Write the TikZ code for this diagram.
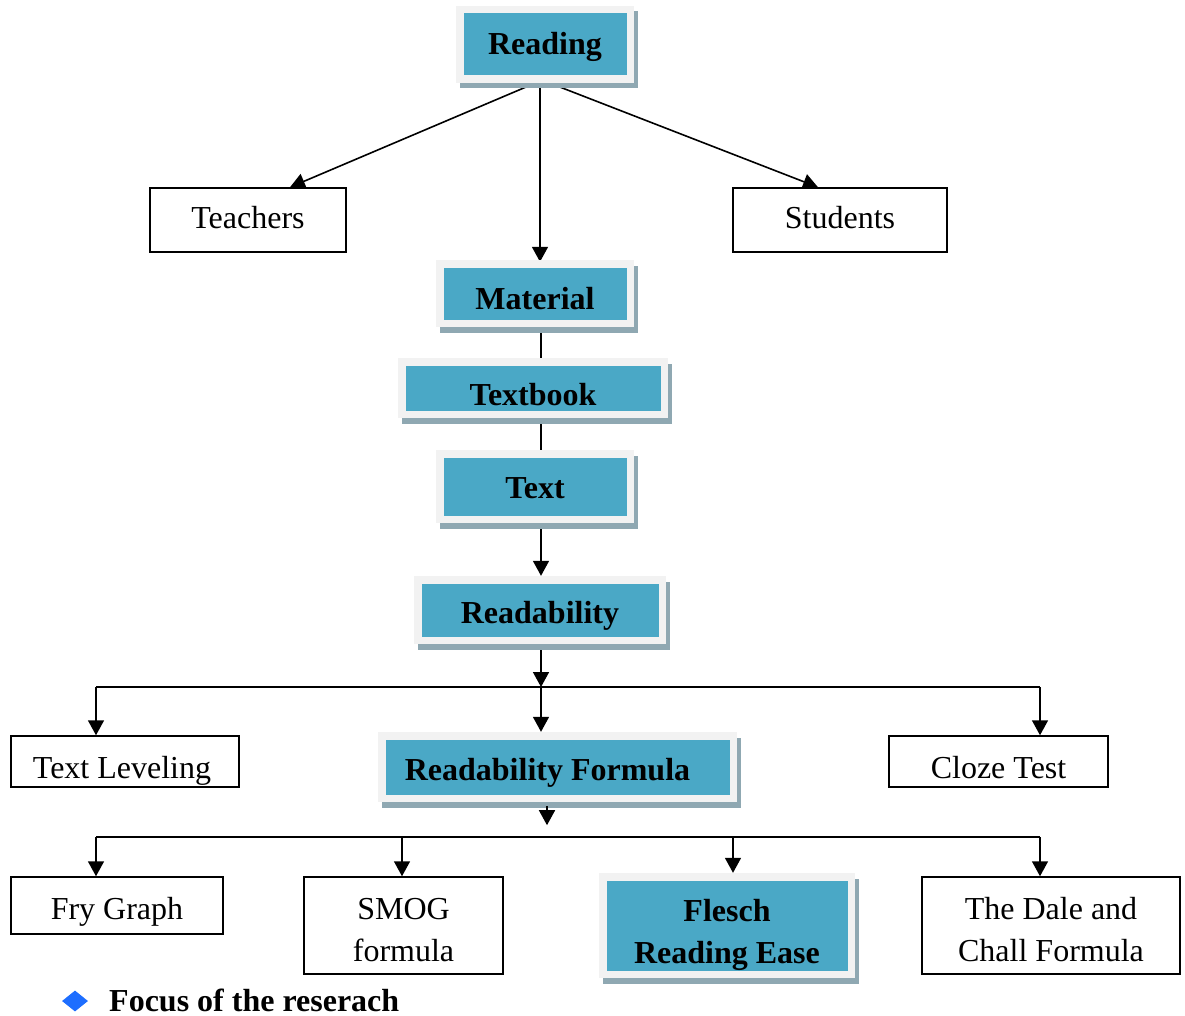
\documentclass[tikz,border=0pt]{standalone}
\usepackage{fontspec}
\setmainfont{Liberation Serif}
\usetikzlibrary{arrows.meta,shadows,shapes.geometric}
\definecolor{bblue}{HTML}{4AA8C6}
\definecolor{framec}{HTML}{F2F2F2}
\definecolor{shadowc}{HTML}{8FA8B2}
\definecolor{diamondc}{HTML}{1E6EFF}
\pgfdeclarelayer{bg}
\pgfsetlayers{bg,main}
\newcommand\lowone[2]{\raisebox{-#1}[\height][\depth]{#2}}
\newcommand\lowtwo[2]{\raisebox{-#1}[\height][\depth]{\begin{tabular}{@{}c@{}}#2\end{tabular}}}
\tikzset{
  bluebox/.style={fill=framec, draw=none, inner sep=0pt, align=center,
    font=\fontsize{32}{42}\selectfont\bfseries,
    drop shadow={shadow xshift=3.5pt, shadow yshift=-5.5pt, fill=shadowc, opacity=1},
    path picture={\fill[bblue] ([shift={(7.5pt,-7.5pt)}]path picture bounding box.north west) rectangle ([shift={(-7.5pt,7.5pt)}]path picture bounding box.south east);}},
  plainbox/.style={draw=black, line width=1.5pt, fill=white, inner sep=0pt, align=center,
    font=\fontsize{32}{42}\selectfont},
  conn/.style={line width=1.6pt, draw=black},
  arr/.style={conn, -{Triangle[width=16pt,length=15pt]}},
}
\begin{document}
\begin{tikzpicture}[x=1pt,y=-1pt]
\useasboundingbox (0,0) rectangle (1185,1016);
% blue boxes
\node[bluebox, minimum width=178pt, minimum height=77pt] (reading) at (545,44.5) {\lowone{2pt}{Reading}};
\node[bluebox, minimum width=198pt, minimum height=67pt] (material) at (535,293.5) {\lowone{5pt}{Material}};
\node[bluebox, minimum width=270pt, minimum height=60pt] (textbook) at (533,388) {\lowone{7pt}{Textbook}};
\node[bluebox, minimum width=198pt, minimum height=73pt] (textn) at (535,486.5) {\lowone{2pt}{Text}};
\node[bluebox, minimum width=252pt, minimum height=68pt] (readability) at (540,610) {\lowone{6pt}{Readability}};
\node[bluebox, minimum width=359pt, minimum height=70pt] (formula) at (557.5,767) {\lowone{6pt}{Readability Formula}\hspace*{20pt}};
\node[bluebox, minimum width=256pt, minimum height=105pt] (flesch) at (727,925.5) {\lowtwo{9pt}{Flesch\\Reading Ease}};
% plain boxes
\node[plainbox, minimum width=196pt, minimum height=64pt] (teachers) at (248,220) {\lowone{-2pt}{Teachers}};
\node[plainbox, minimum width=214pt, minimum height=64pt] (students) at (840,220) {\lowone{-2pt}{Students}};
\node[plainbox, minimum width=228pt, minimum height=51pt] (leveling) at (125,761.5) {\lowone{9pt}{Text Leveling}\hspace*{6pt}};
\node[plainbox, minimum width=219pt, minimum height=51pt] (cloze) at (998.5,761.5) {\lowone{6pt}{Cloze Test}};
\node[plainbox, minimum width=212pt, minimum height=57pt] (fry) at (117,905.5) {\lowone{6pt}{Fry Graph}};
\node[plainbox, minimum width=199pt, minimum height=97pt] (smog) at (403.5,925.5) {\lowtwo{7pt}{SMOG\\formula}};
\node[plainbox, minimum width=258pt, minimum height=97pt] (dale) at (1051,925.5) {\lowtwo{7pt}{The Dale and\\Chall Formula}};
% legend
\node[diamond, fill=diamondc, inner sep=0pt, minimum width=26pt, minimum height=21pt] (legdia) at (75,1001) {};
\node[anchor=base west, inner sep=0pt, font=\fontsize{32}{36}\selectfont\bfseries] (legtext) at (109,1011) {Focus of the reserach};
% helper coordinates
\coordinate (mx) at (540,0);
\coordinate (cx) at (541,0);
\coordinate (fx) at (547,0);
\coordinate (b1) at (541,687);
\coordinate (b1l) at (96,687);
\coordinate (b1r) at (1040,687);
\coordinate (b2l) at (96,837);
\coordinate (b2r) at (1040,837);
\coordinate (b2s) at (402,837);
\coordinate (b2f) at (733,837);
% connectors
\begin{pgfonlayer}{bg}
\draw[arr] ([xshift=-10pt]reading.south) -- ([xshift=42pt]teachers.north);
\draw[arr] (reading.south -| mx) -- ([yshift=-2pt]material.north -| mx);
\draw[arr] ([xshift=5pt]reading.south) -- ([xshift=-22pt]students.north);
\draw[conn] (material.south -| cx) -- (textbook.north -| cx);
\draw[conn] (textbook.south -| cx) -- (textn.north -| cx);
\draw[arr] (textn.south -| cx) -- (readability.north -| cx);
\draw[arr] (readability.south -| cx) -- (b1);
\draw[conn] (b1l) -- (b1r);
\draw[arr] (b1l) -- (leveling.north -| b1l);
\draw[arr] (b1) -- (formula.north -| b1);
\draw[arr] (b1r) -- (cloze.north -| b1r);
\draw[conn] (b2l) -- (b2r);
\draw[arr] (b2l) -- (fry.north -| b2l);
\draw[arr] (b2s) -- (smog.north -| b2s);
\draw[arr] (b2f) -- (flesch.north -| b2f);
\draw[arr] (b2r) -- (dale.north -| b2r);
\end{pgfonlayer}
\draw[arr] ([yshift=-4pt]formula.south -| fx) -- ++(0,19);
\end{tikzpicture}
\end{document}
